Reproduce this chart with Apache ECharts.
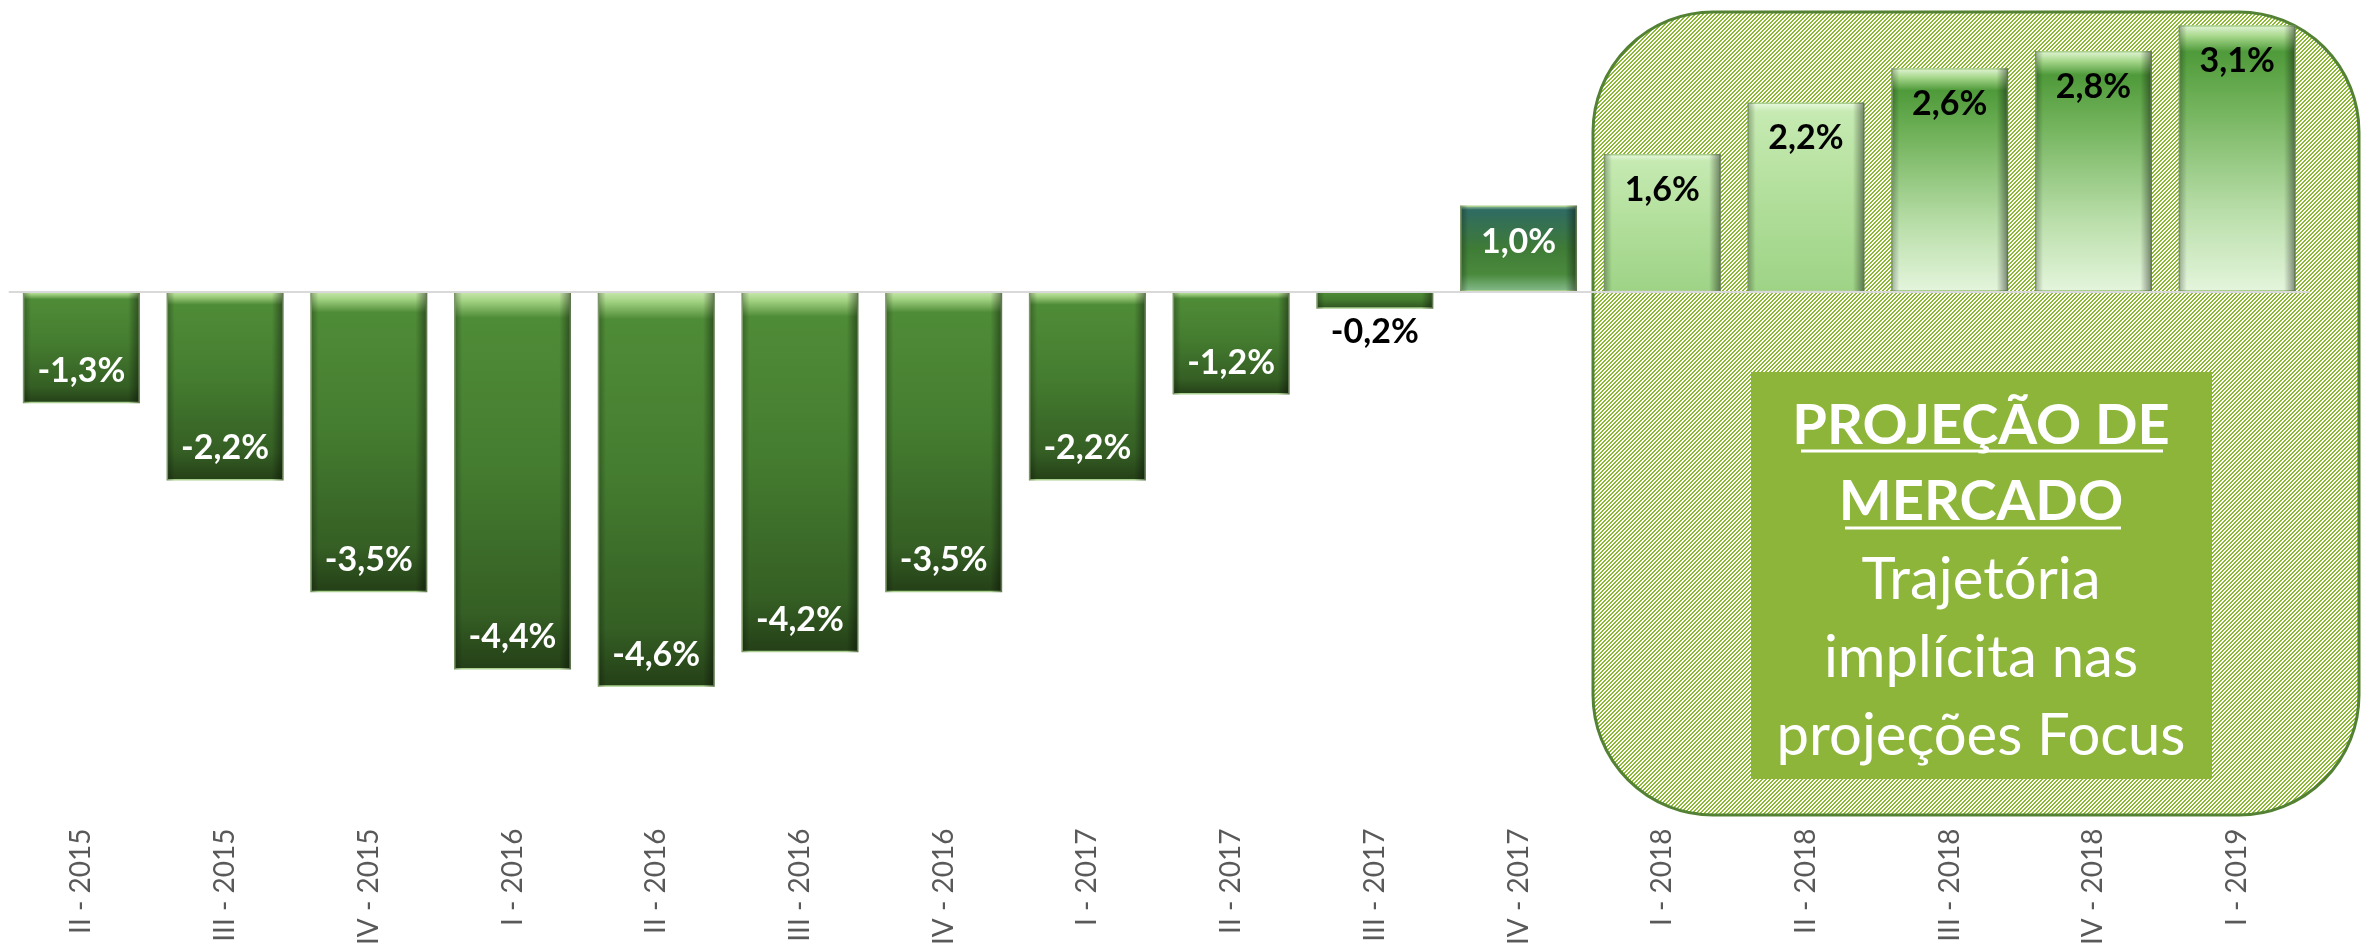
<!DOCTYPE html>
<html>
<head>
<meta charset="utf-8">
<script src="https://cdn.jsdelivr.net/npm/echarts@6/dist/echarts.min.js"></script>
<style>
  html, body { margin: 0; padding: 0; background: #fff; }
  #chart { width: 2362px; height: 948px; }
</style>
</head>
<body>
<div id="chart"></div>
<script>
// trimestres e variação do PIB (%)
const quarters = [
  'II - 2015', 'III - 2015', 'IV - 2015', 'I - 2016', 'II - 2016', 'III - 2016',
  'IV - 2016', 'I - 2017', 'II - 2017', 'III - 2017', 'IV - 2017',
  'I - 2018', 'II - 2018', 'III - 2018', 'IV - 2018', 'I - 2019'
];
const values = [-1.3, -2.2, -3.5, -4.4, -4.6, -4.2, -3.5, -2.2, -1.2, -0.2, 1.0, 1.6, 2.2, 2.6, 2.8, 3.1];
const boxLines = ['PROJEÇÃO DE', 'MERCADO', 'Trajetória', 'implícita nas', 'projeções Focus'];

const chart = echarts.init(document.getElementById('chart'));

// gradiente vertical do preenchimento
function grad(stops) {
  return new echarts.graphic.LinearGradient(0, 0, 0, 1,
    stops.map(s => ({ offset: s[0], color: s[1] })));
}
const darkFill = grad([[0, '#cbe9b0'], [0.025, '#a2d282'], [0.07, '#4f8c37'], [0.45, '#457d30'], [0.85, '#355f24'], [1, '#243f17']]);
const tealFill = grad([[0, '#a8d0a8'], [0.05, '#2f6b62'], [0.5, '#3f7b36'], [0.8, '#4a8a3d'], [1, '#86bb8c']]);
const lightFill = grad([[0, '#eaf8e0'], [0.05, '#c6eab2'], [0.5, '#b2df9b'], [1, '#9ed386']]);
const midFill = grad([[0, '#e4f5d8'], [0.04, '#a9d98e'], [0.1, '#4f9a3a'], [0.3, '#71b25a'], [0.7, '#b9dea9'], [1, '#e4f5dc']]);

function fillFor(i) {
  const v = values[i];
  if (v < 0) return darkFill;
  if (v < 1.5) return tealFill;
  if (v < 2.5) return lightFill;
  return midFill;
}

const fmt = v => v.toFixed(1).replace('.', ',') + '%';

const barData = values.map((v, i) => {
  let label;
  if (v < 0 && v > -0.5) label = { position: 'bottom', distance: 6, color: '#000' };
  else if (v < 0) label = { position: 'insideBottom', distance: 15, color: '#fff' };
  else if (v < 1.5) label = { position: 'insideTop', distance: 19, color: '#fff' };
  else label = { position: 'insideTop', distance: 19, color: '#000' };
  return { value: v, label: label, itemStyle: { color: fillFor(i) } };
});

// padrão hachurado da área de projeção
function hatch() {
  const n = 4;
  const c = document.createElement('canvas');
  c.width = n; c.height = n;
  const ctx = c.getContext('2d');
  const img = ctx.createImageData(n, n);
  for (let y = 0; y < n; y++) {
    for (let x = 0; x < n; x++) {
      const k = (y * n + x) * 4;
      const g = (x + y) % n < 2;
      img.data[k] = g ? 0x8d : 255;
      img.data[k + 1] = g ? 0xb8 : 255;
      img.data[k + 2] = g ? 0x32 : 255;
      img.data[k + 3] = 255;
    }
  }
  ctx.putImageData(img, 0, 0);
  return c;
}

const textCx = 1981;
const lineY = [426, 502, 580, 658, 736];

chart.setOption({
  animation: false,
  backgroundColor: '#fff',
  grid: { left: 9.5, right: 53, top: 8, bottom: 126 },
  xAxis: [{
    type: 'category',
    data: quarters,
    position: 'top',
    axisLine: { onZero: true, lineStyle: { color: '#d9d9d9', width: 2 } },
    axisTick: { inside: true, length: 10, lineStyle: { color: '#d9d9d9', width: 2 } },
    axisLabel: { show: false },
    z: 3
  }, {
    type: 'category',
    data: quarters,
    position: 'bottom',
    axisLine: { show: false, onZero: false },
    axisTick: { show: false },
    axisLabel: {
      rotate: 90,
      margin: 13,
      color: '#595959',
      fontFamily: 'Lato',
      fontSize: 28
    }
  }],
  yAxis: { type: 'value', min: -6.1, max: 3.3, show: false, splitLine: { show: false } },
  graphic: [
    {
      type: 'rect', z: -5,
      shape: { x: 1593, y: 12, width: 766, height: 803, r: 120 },
      style: { fill: { image: hatch(), repeat: 'repeat' }, stroke: '#548235', lineWidth: 3 }
    },
    {
      type: 'rect', z: -4,
      shape: { x: 1751, y: 372, width: 461, height: 407 },
      style: { fill: '#8db53a' }
    },
    ...boxLines.map((t, i) => ({
      type: 'text', z: -3, x: textCx, y: lineY[i],
      style: {
        text: t, fill: '#fff',
        font: (i < 2 ? 'bold 56px' : '58px') + ' Lato',
        textAlign: 'center', textVerticalAlign: 'middle'
      }
    })),
    { type: 'line', z: -3, shape: { x1: 1801, y1: 451, x2: 2163, y2: 451 }, style: { stroke: '#fff', lineWidth: 3 } },
    { type: 'line', z: -3, shape: { x1: 1845, y1: 528, x2: 2121, y2: 528 }, style: { stroke: '#fff', lineWidth: 3 } }
  ],
  series: [{
    type: 'bar',
    data: barData,
    barCategoryGap: '18.6%',
    barGap: '-100%',
    itemStyle: { borderColor: '#a9d08e', borderWidth: 1.5 },
    label: {
      show: true,
      fontFamily: 'Lato',
      fontWeight: 'bold',
      fontSize: 34,
      formatter: p => fmt(p.value)
    }
  }, {
    // sombra lateral do chanfro
    type: 'bar',
    data: values,
    silent: true,
    barGap: '-100%',
    itemStyle: {
      color: new echarts.graphic.LinearGradient(0, 0, 1, 0, [
        { offset: 0, color: 'rgba(0,0,0,0.30)' },
        { offset: 0.07, color: 'rgba(0,0,0,0)' },
        { offset: 0.9, color: 'rgba(0,0,0,0)' },
        { offset: 1, color: 'rgba(0,0,0,0.45)' }
      ])
    }
  }]
});
</script>
</body>
</html>
